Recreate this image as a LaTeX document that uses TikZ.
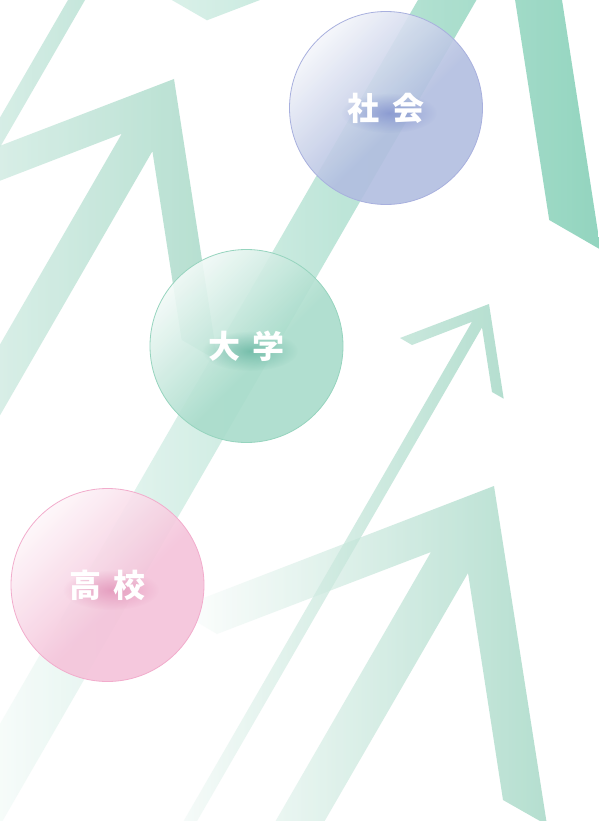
\documentclass[tikz,border=0pt]{standalone}
\usepackage{fontspec}
\newfontfamily\cjk{Noto Sans CJK JP}
\usetikzlibrary{fadings}
\definecolor{gDeep}{HTML}{6FC7AA}
\definecolor{gMid}{HTML}{9CD4C0}
\definecolor{gPale}{HTML}{D6EEE6}
\definecolor{gThin}{HTML}{ABDBCB}
\definecolor{cBlue}{HTML}{B2BEE0}
\definecolor{cBlueEdge}{HTML}{A8B0DE}
\definecolor{cBlueGlow}{HTML}{6F80C8}
\definecolor{cGreen}{HTML}{A9DCCB}
\definecolor{cGreenEdge}{HTML}{96D4BE}
\definecolor{cGreenGlow}{HTML}{4FA893}
\definecolor{cPink}{HTML}{F5C3DA}
\definecolor{cPinkEdge}{HTML}{F2ACCC}
\definecolor{cPinkGlow}{HTML}{DC80AC}
\pgfdeclareverticalshading{glassBlue}{100bp}{color(0bp)=(cBlue); color(45bp)=(cBlue); color(64bp)=(cBlue!45!white); color(80bp)=(white); color(100bp)=(white)}
\pgfdeclareverticalshading{glassGreen}{100bp}{color(0bp)=(cGreen); color(45bp)=(cGreen); color(64bp)=(cGreen!45!white); color(80bp)=(white); color(100bp)=(white)}
\pgfdeclareverticalshading{glassPink}{100bp}{color(0bp)=(cPink); color(45bp)=(cPink); color(64bp)=(cPink!45!white); color(80bp)=(white); color(100bp)=(white)}
\tikzfading[name=glowfade, inner color=transparent!30, outer color=transparent!100]
\tikzset{
  arrowband/.style={fill opacity=0.75, draw=none},
  bubble/.style={circle, minimum size=193pt, inner sep=0pt, outer sep=0pt, line width=0.8pt, fill opacity=0.9, shading angle=45},
  label/.style={text=white, font=\cjk\bfseries\fontsize{32}{32}\selectfont, inner sep=0pt},
  glow/.style={path fading=glowfade, fit fading=true, fill opacity=0.85}
}
\begin{document}
\begin{tikzpicture}[x=1pt,y=-1pt]
\useasboundingbox (0,0) rectangle (599,821);
\clip (0,0) rectangle (599,821);
\fill[white] (0,0) rectangle (599,821);
% arrows
\shade[arrowband, left color=white, right color=gDeep]
  (537.8,-156.2) -- (155.1,-9.6) -- (207,20.3) -- (462.8,-77.7) -- (-50,810.5) -- (-50,911.9) -- (506.9,-52.7) -- (549.2,220) -- (600.7,249.7) -- cycle;
\shade[arrowband, left color=gPale, right color=gThin]
  (96.9,-50) -- (113.9,-50) -- (-50,233.8) -- (-50,204) -- cycle;
\shade[arrowband, left color=gPale, right color=gMid]
  (174,79) -- (-50,165) -- (-50,200) -- (121.7,133.8) -- (-50,431) -- (-50,502) -- (152.4,151.2) -- (181.6,339.9) -- (217.6,360.7) -- cycle;
\shade[arrowband, left color=white, right color=gMid]
  (494,486) -- (175,609) -- (217,634) -- (431,552) -- (230,900) -- (279,900) -- (468,573) -- (503,800) -- (547,825) -- cycle;
\shade[arrowband, left color=white, right color=gMid]
  (489,304) -- (400,338) -- (412,345) -- (472,321.8) -- (138,900) -- (151.5,900) -- (482,327.5) -- (492,392) -- (503.7,398.7) -- cycle;
% circles
\node[bubble, shading=glassBlue, draw=cBlueEdge] (shakai) at (386,108) {};
\node[bubble, shading=glassGreen, draw=cGreenEdge] (daigaku) at (246.5,346) {};
\node[bubble, shading=glassPink, draw=cPinkEdge] (koukou) at (107.5,585) {};
% glows
\fill[cBlueGlow, glow] (389,113) ellipse (48pt and 20pt);
\fill[cGreenGlow, glow] (250,351) ellipse (48pt and 20pt);
\fill[cPinkGlow, glow] (111,590) ellipse (48pt and 20pt);
% labels
\node[label] (tshakai) at (shakai.center) {社\hspace{13pt}会};
\node[label] (tdaigaku) at (daigaku.center) {大\hspace{13pt}学};
\node[label] (tkoukou) at (koukou.center) {高\hspace{13pt}校};
\end{tikzpicture}
\end{document}
